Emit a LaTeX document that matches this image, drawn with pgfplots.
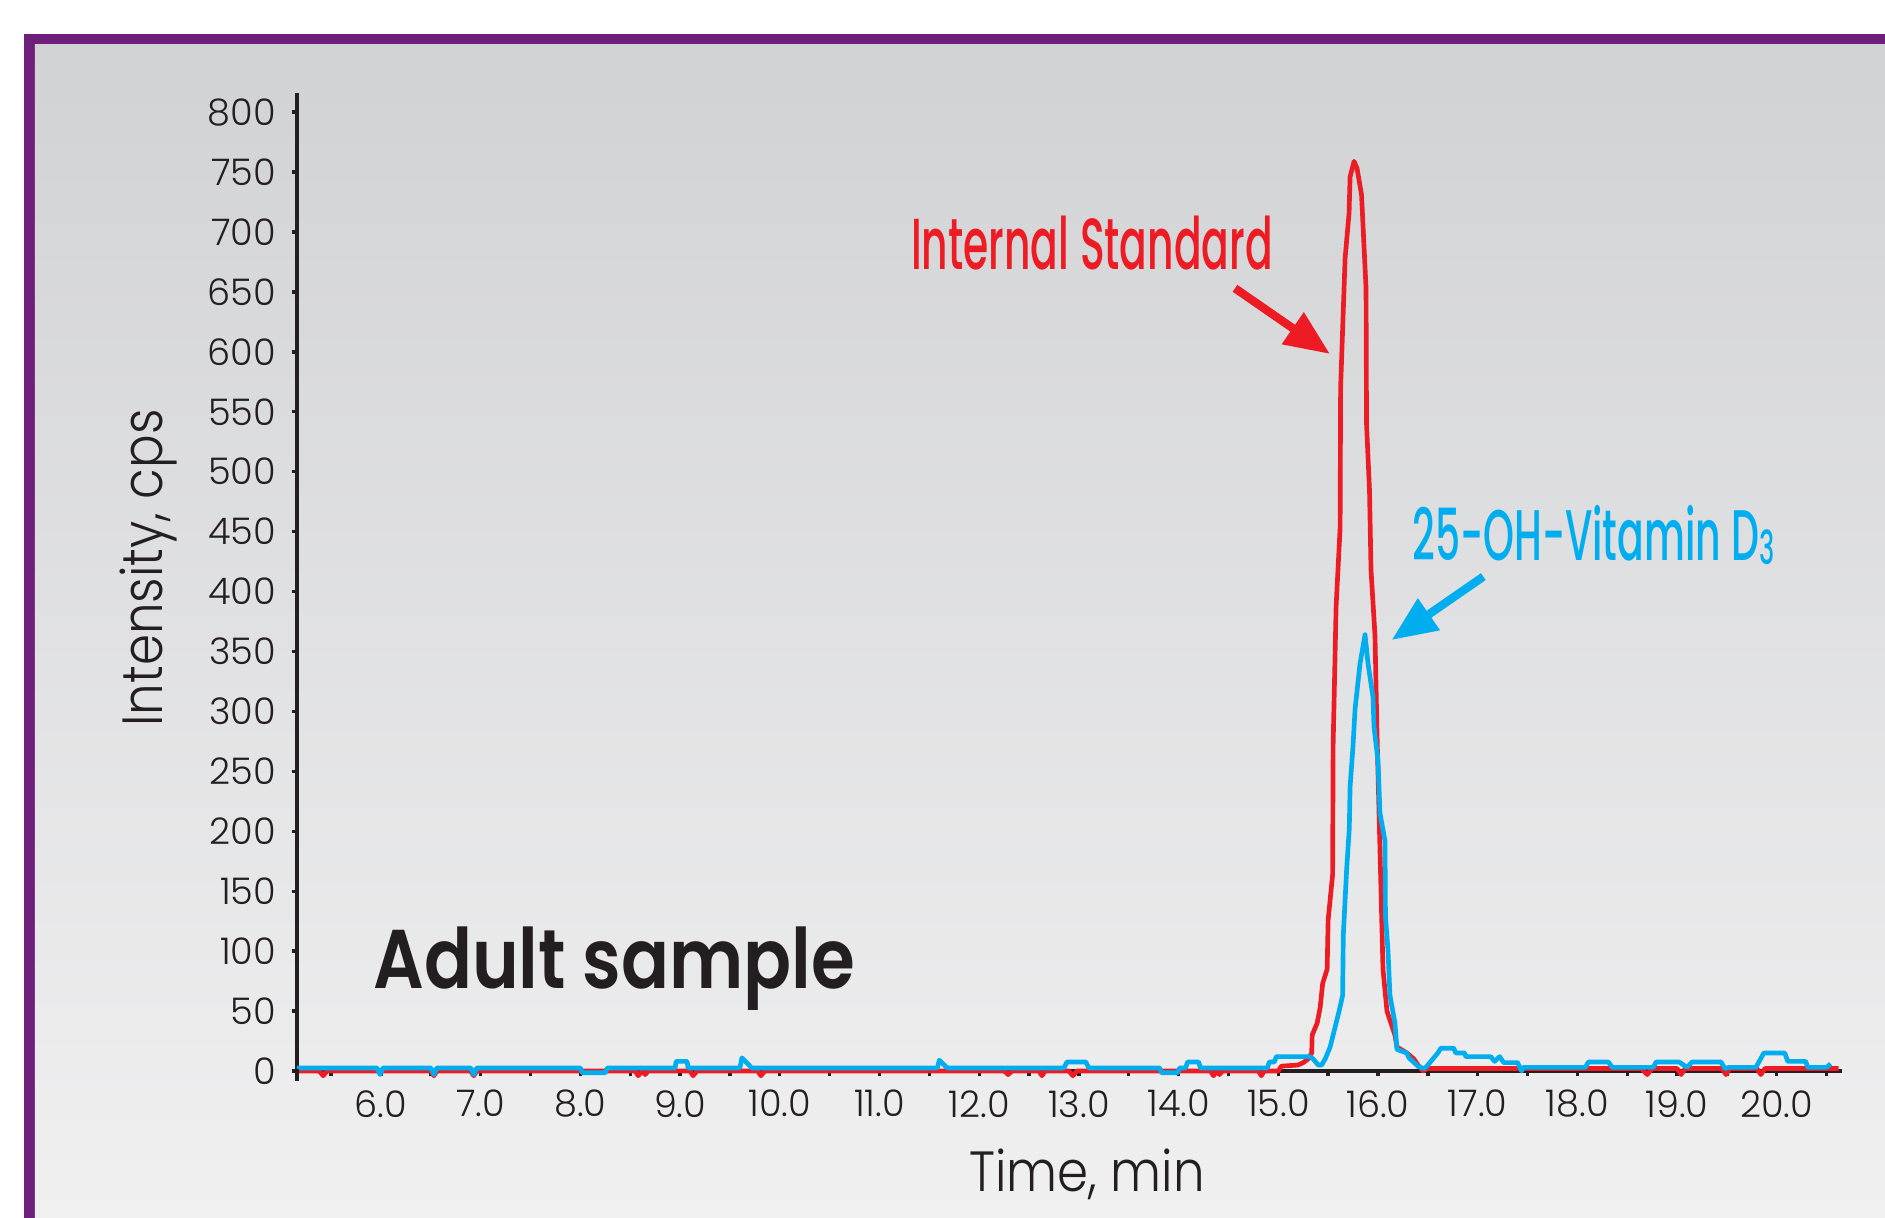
\documentclass[border=0pt]{standalone}
\usepackage{pgfplots}
\pgfplotsset{compat=1.18}
\usetikzlibrary{arrows.meta}
\usepackage{fontspec}
\setmainfont{Poppins}[UprightFont={* Light}]
\newfontfamily\labfont{Poppins}[UprightFont={* Light}, FakeStretch=0.88]
\newfontfamily\annfont{Poppins}[UprightFont={* Medium}, FakeStretch=0.565]
\newfontfamily\annfontb{Poppins}[UprightFont={* Medium}, FakeStretch=0.55]
\newfontfamily\bigfont{Poppins}[UprightFont={* SemiBold}, FakeStretch=0.85]
\definecolor{pframe}{HTML}{6E1F7C}
\definecolor{bgtop}{HTML}{D1D2D4}
\definecolor{bgbot}{HTML}{F0F0F1}
\definecolor{cred}{HTML}{ED1C24}
\definecolor{cblue}{HTML}{00AEEF}
\definecolor{ink}{HTML}{231F20}

\pgfplotstableread{
t v
5.1575 0
5.38 0
5.42 -4
5.46 0
6.50 0
6.53 -4
6.56 0
6.90 0
6.93 -4
6.96 0
8.55 0
8.58 -4
8.62 0
8.65 -3
8.68 0
9.10 0
9.13 -4
9.17 0
9.78 0
9.81 -4
9.85 0
12.25 0
12.29 -3
12.33 0
12.60 0
12.63 -4
12.66 0
12.90 0
12.94 -4
12.98 0
14.32 0
14.35 -4
14.38 0
14.41 -3
14.44 0
14.80 0
14.83 -4
14.86 0
15.00 0
15.03 4
15.20 5
15.25 7
15.30 10
15.335 15
15.34 30
15.39 40
15.42 53
15.445 73
15.49 85
15.50 126
15.545 164
15.55 272
15.58 388
15.62 453
15.625 570
15.67 678
15.71 716
15.72 746
15.76 759
15.79 753
15.835 731
15.88 653
15.885 540
15.915 484
15.93 418
15.97 363
15.99 282
16.01 217
16.05 85
16.09 50
16.17 30
16.19 20
16.29 15
16.36 10
16.40 5
16.45 0
16.50 2
18.64 2
18.70 -3
18.75 2
19.00 2
19.04 -3
19.08 2
19.45 2
19.49 -3
19.53 2
19.80 2
19.84 -3
19.88 2
20.62 2
}\redtrace

\pgfplotstableread{
t v
5.1575 2.5
5.96 2.5
5.99 -3
6.02 2.5
6.50 2.5
6.53 -3
6.56 2.5
6.90 2.5
6.93 -3
6.96 2.5
8.00 2.5
8.02 -1.5
8.25 -1.5
8.27 2.5
8.95 2.5
8.96 8
9.07 8
9.08 2.5
9.60 2.5
9.62 11
9.72 2.5
11.58 2.5
11.60 9
11.68 2.5
12.85 2.5
12.88 7.5
13.07 7.5
13.10 2.5
13.81 2.5
13.83 -1.5
13.99 -1.5
14.01 2.5
14.07 2.5
14.09 7.5
14.20 7.5
14.22 2.5
14.89 2.5
14.91 7.5
14.96 7.5
14.98 12
15.32 12
15.35 10
15.40 5
15.435 5
15.47 10
15.52 20
15.55 30
15.58 40
15.61 50
15.645 63
15.652 113
15.686 169
15.712 202
15.72 237
15.75 272
15.77 302
15.82 340
15.87 364
15.90 340
15.95 312
15.96 287
16.00 259
16.02 215
16.07 192
16.075 129
16.10 101
16.12 63
16.17 40
16.19 18
16.29 15
16.31 11
16.40 4
16.46 2
16.48 3
16.60 15
16.63 19
16.76 19
16.78 15
16.87 15
16.88 12
17.13 12
17.17 8
17.22 12
17.26 7
17.40 7
17.44 0
17.46 3
18.08 3
18.11 7.5
18.31 7.5
18.35 3
18.76 3
18.79 7.5
19.02 7.5
19.10 3
19.15 7.5
19.44 7.5
19.48 2
19.52 3
19.79 3
19.87 15
20.08 15
20.11 8
20.29 8
20.31 3
20.50 3
20.54 6
}\bluetrace

\begin{document}
\begin{tikzpicture}
\useasboundingbox (-89.1pt,-44.1pt) rectangle (476.4pt,321.3pt);
\fill[white] (-89.1pt,-44.1pt) rectangle (476.4pt,321.3pt);
\fill[pframe] (-81.9pt,-44.1pt) rectangle (476.4pt,311.1pt);
\shade[top color=bgtop, bottom color=bgbot] (-78.6pt,-44.1pt) rectangle (476.4pt,307.8pt);
\begin{axis}[
  at={(0pt,0pt)}, anchor=south west,
  scale only axis, width=463.5pt, height=293.4pt,
  xmin=5.1575, xmax=20.654, ymin=0, ymax=816,
  axis x line*=bottom, axis y line*=left,
  axis line style={-, line width=1.4pt, color=ink},
  clip=false,
  tick align=outside,
  major tick length=1.6pt, minor tick length=1.6pt,
  every tick/.style={line width=1pt, color=ink},
  xtick={6,...,20},
  minor xtick={5.5,6.5,...,20.5},
  ytick={0,50,...,800},
  /pgf/number format/assume math mode=true,
  xticklabel={\pgfmathprintnumber[fixed,fixed zerofill,precision=1]{\tick}},
  ticklabel style={font=\fontsize{11}{12}\selectfont, text=ink, inner sep=0pt},
  xticklabel style={anchor=north, yshift=-4pt},
  yticklabel style={anchor=east, xshift=-4.5pt},
]
\addplot[cred, line width=1.4pt, line join=round] table[x=t, y=v] {\redtrace};
\addplot[cblue, line width=1.4pt, line join=round] table[x=t, y=v] {\bluetrace};
\end{axis}
\draw[ink, line width=1.4pt] (0pt,0.5pt) -- (0pt,-3pt);
\node[rotate=90, anchor=base, inner sep=0pt, text=ink, font=\labfont\fontsize{17}{20}\selectfont] at (-40.2pt,150.9pt) {Intensity, cps};
\node[anchor=base, inner sep=0pt, text=ink, font=\labfont\fontsize{17}{20}\selectfont] at (237pt,-36.2pt) {Time, min};
\node[anchor=base west, inner sep=0pt, text=ink, font=\bigfont\fontsize{25}{28}\selectfont] at (22.7pt,24.6pt) {Adult sample};
\node[anchor=base west, inner sep=0pt, text=cred, font=\annfont\fontsize{21.7}{24}\selectfont] at (184pt,240.3pt) {Internal Standard};
\node[anchor=base west, inner sep=0pt, text=cblue, font=\annfontb\fontsize{21.5}{24}\selectfont] at (334.4pt,153.1pt) {25-OH-Vitamin D{\fontsize{14}{14}\selectfont\raisebox{-1.3pt}{3}}};
\draw[cred, line width=2.5pt, -{Triangle[length=13.6pt,width=11pt]}] (281.4pt,234.8pt) -- (309.9pt,215.1pt);
\draw[cblue, line width=2.5pt, -{Triangle[length=13.6pt,width=11pt]}] (355.9pt,148.3pt) -- (328.4pt,129.3pt);
\end{tikzpicture}
\end{document}
